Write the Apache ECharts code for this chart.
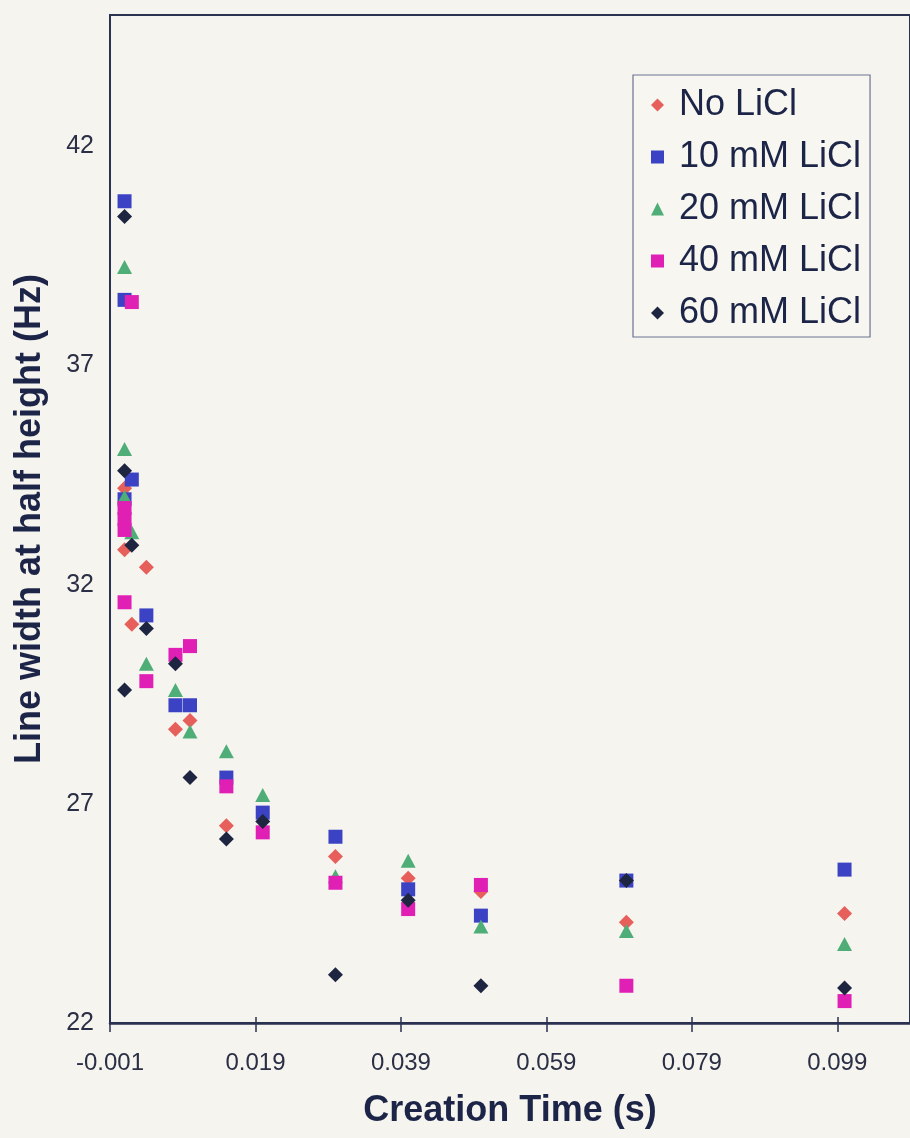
<!DOCTYPE html>
<html>
<head>
<meta charset="utf-8">
<style>
  html, body { margin: 0; padding: 0; background: #f6f4ef; }
  #chart { width: 910px; height: 1138px; }
</style>
<script src="https://cdn.jsdelivr.net/npm/echarts@6.0.0/dist/echarts.min.js"></script>
</head>
<body>
<div id="chart"></div>
<script>
// Line width at half height versus creation time, for several LiCl concentrations.
const seriesNames = ['No LiCl', '10 mM LiCl', '20 mM LiCl', '40 mM LiCl', '60 mM LiCl'];

const noLiClTime  = [0.001, 0.001, 0.002, 0.004, 0.008, 0.010, 0.015, 0.030, 0.040, 0.050, 0.070, 0.100];
const noLiClWidth = [34.2, 32.8, 31.1, 32.4, 28.7, 28.9, 26.5, 25.8, 25.3, 25.0, 24.3, 24.5];

const li10Time  = [0.001, 0.001, 0.001, 0.002, 0.004, 0.008, 0.010, 0.015, 0.020, 0.030, 0.040, 0.050, 0.070, 0.100];
const li10Width = [40.75, 38.5, 33.95, 34.4, 31.3, 29.25, 29.25, 27.6, 26.8, 26.25, 25.05, 24.45, 25.25, 25.5];

const li20Time  = [0.001, 0.001, 0.001, 0.002, 0.004, 0.008, 0.010, 0.015, 0.020, 0.030, 0.040, 0.050, 0.070, 0.100];
const li20Width = [39.25, 35.1, 34.0, 33.2, 30.2, 29.6, 28.65, 28.2, 27.2, 25.35, 25.7, 24.2, 24.1, 23.8];

const li40Time  = [0.002, 0.001, 0.001, 0.001, 0.001, 0.004, 0.008, 0.010, 0.015, 0.020, 0.030, 0.040, 0.050, 0.070, 0.100];
const li40Width = [38.45, 33.75, 33.5, 33.25, 31.6, 29.8, 30.4, 30.6, 27.4, 26.35, 25.2, 24.6, 25.15, 22.85, 22.5];

const li60Time  = [0.001, 0.001, 0.001, 0.002, 0.004, 0.008, 0.010, 0.015, 0.020, 0.030, 0.040, 0.050, 0.070, 0.100];
const li60Width = [40.4, 34.6, 29.6, 32.9, 31.0, 30.2, 27.6, 26.2, 26.6, 23.1, 24.8, 22.85, 25.25, 22.8];

const xTickMin = -0.001, xTickMax = 0.109, xTickStep = 0.02;
const yTickMin = 22, yTickMax = 45, yTickStep = 5;

const ink = '#1c2547';
const axisInk = '#2b3150';
const font = 'Liberation Sans, Arial, sans-serif';

function pairs(t, v) { return t.map((x, i) => [x, v[i]]); }

const markerStyles = [
  { symbol: 'diamond',  size: [15, 15], color: '#e65f5a' },
  { symbol: 'rect',     size: [14, 14], color: '#3b43c4' },
  { symbol: 'triangle', size: [15, 14], color: '#4fae78' },
  { symbol: 'rect',     size: [14, 14], color: '#e020b4' },
  { symbol: 'diamond',  size: [15, 15], color: '#1d2540' }
];
const seriesData = [
  pairs(noLiClTime, noLiClWidth),
  pairs(li10Time, li10Width),
  pairs(li20Time, li20Width),
  pairs(li40Time, li40Width),
  pairs(li60Time, li60Width)
];

const chart = echarts.init(document.getElementById('chart'), null, { renderer: 'canvas' });

const option = {
  backgroundColor: '#f6f4ef',
  animation: false,
  grid: {
    left: 110, top: 15, width: 802, bottom: 115,
    show: true, borderColor: axisInk, borderWidth: 2, backgroundColor: 'transparent'
  },
  legend: {
    orient: 'vertical',
    left: 633, top: 75,
    padding: [12, 9, 6, 18],
    itemGap: 16,
    itemWidth: 13, itemHeight: 13,
    backgroundColor: '#f7f6f1',
    borderColor: '#6c7391', borderWidth: 1.2,
    textStyle: { fontFamily: font, fontSize: 36, color: ink, lineHeight: 36, padding: [0, 0, 0, 10] },
    data: seriesNames
  },
  xAxis: [
    {
      type: 'value',
      min: xTickMin, max: xTickMax, interval: xTickStep,
      name: 'Creation Time (s)',
      nameLocation: 'middle', nameGap: 70,
      nameTextStyle: { fontFamily: font, fontSize: 36, fontWeight: 'bold', color: ink },
      axisLine: { show: true, onZero: false, lineStyle: { color: axisInk, width: 2.5 } },
      axisTick: { show: true, length: 9, lineStyle: { color: axisInk, width: 1.5 } },
      axisLabel: {
        fontFamily: font, fontSize: 24, color: '#2a2f45', margin: 28,
        showMaxLabel: false,
        formatter: v => v.toFixed(3)
      },
      splitLine: { show: false }
    },
    {
      // inner half of the crossing tick marks
      type: 'value', position: 'bottom',
      min: xTickMin, max: xTickMax, interval: xTickStep,
      axisLine: { show: false, onZero: false },
      axisTick: { show: true, inside: true, length: 6, lineStyle: { color: axisInk, width: 1.5 } },
      axisLabel: { show: false },
      splitLine: { show: false }
    }
  ],
  yAxis: {
    type: 'value',
    min: yTickMin, max: yTickMax, interval: yTickStep,
    name: 'Line width at half height (Hz)',
    nameLocation: 'middle', nameGap: 62,
    nameTextStyle: { fontFamily: font, fontSize: 36, fontWeight: 'bold', color: ink },
    axisLine: { show: true, onZero: false, lineStyle: { color: axisInk, width: 2 } },
    axisTick: { show: false },
    axisLabel: {
      fontFamily: font, fontSize: 25, color: '#2a2f45', margin: 16,
      showMaxLabel: false
    },
    splitLine: { show: false }
  },
  series: seriesNames.map((name, i) => ({
    name,
    type: 'scatter',
    data: seriesData[i],
    symbol: markerStyles[i].symbol,
    symbolSize: markerStyles[i].size,
    itemStyle: { color: markerStyles[i].color, opacity: 1 },
    z: 2 + i
  }))
};

chart.setOption(option);
</script>
</body>
</html>
